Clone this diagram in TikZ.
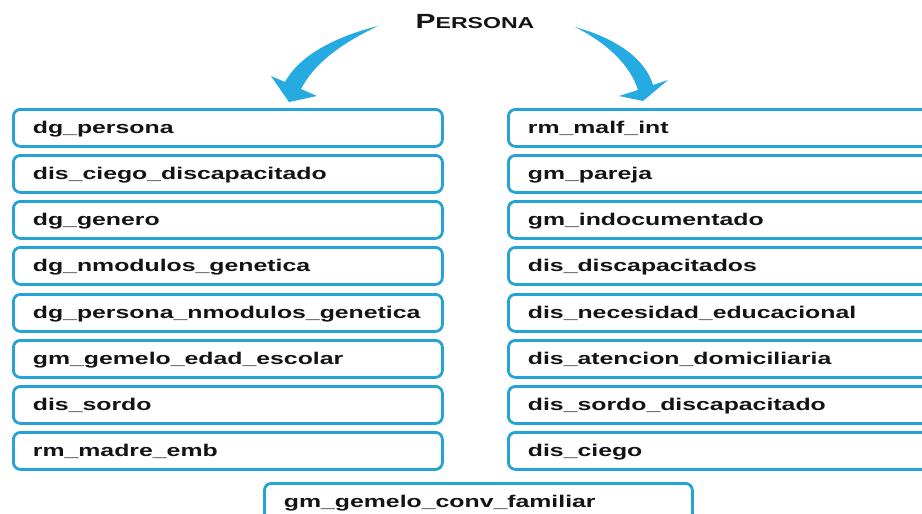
\documentclass[tikz,border=0pt]{standalone}
\usepackage{fontspec}
\newfontfamily\boxfont[FakeStretch=1.46]{Liberation Sans}
\definecolor{boxblue}{RGB}{38,163,214}
\definecolor{arrowblue}{RGB}{38,170,226}
\definecolor{txt}{RGB}{20,20,20}
\begin{document}
\begin{tikzpicture}[x=1pt,y=-1pt,
  item/.style={draw=boxblue, line width=2.8pt, rounded corners=7pt, fill=white,
    anchor=north west, minimum height=37pt, inner xsep=19.5pt, inner ysep=0pt,
    text width=#1, align=left, text height=13pt, text depth=2.5pt,
    font=\boxfont\bfseries\fontsize{17}{20}\selectfont, text=txt},
  item/.default=390pt,
  bigarrow/.style={fill=arrowblue}]
\path[use as bounding box] (0,0) rectangle (922,514);
\fill[white] (0,0) rectangle (922,514);
\clip (0,0) rectangle (922,514);

\node[text=txt, font=\boxfont\bfseries] (title) at (475,22)
  {{\fontsize{20.5}{20}\selectfont P}{\fontsize{15.8}{15}\selectfont ERSONA}};

% left column
\node[item] (l1) at (12,108) {dg\_persona};
\node[item] (l2) at (12,154) {dis\_ciego\_discapacitado};
\node[item] (l3) at (12,200) {dg\_genero};
\node[item] (l4) at (12,246) {dg\_nmodulos\_genetica};
\node[item] (l5) at (12,293) {dg\_persona\_nmodulos\_genetica};
\node[item] (l6) at (12,339) {gm\_gemelo\_edad\_escolar};
\node[item] (l7) at (12,385) {dis\_sordo};
\node[item] (l8) at (12,431) {rm\_madre\_emb};

% right column
\node[item=411pt] (r1) at (507,108) {rm\_malf\_int};
\node[item=411pt] (r2) at (507,154) {gm\_pareja};
\node[item=411pt] (r3) at (507,200) {gm\_indocumentado};
\node[item=411pt] (r4) at (507,246) {dis\_discapacitados};
\node[item=411pt] (r5) at (507,293) {dis\_necesidad\_educacional};
\node[item=411pt] (r6) at (507,339) {dis\_atencion\_domiciliaria};
\node[item=411pt] (r7) at (507,385) {dis\_sordo\_discapacitado};
\node[item=411pt] (r8) at (507,431) {dis\_ciego};

% bottom
\node[item=389pt] (bot) at (263,482) {gm\_gemelo\_conv\_familiar};

% curved arrows
\fill[bigarrow] (378,26) .. controls (330,38) and (298,58) .. (285,82)
  -- (271,76) -- (289,102) -- (317,96) -- (301,89)
  .. controls (314,64) and (340,44) .. (378,26) -- cycle;
\fill[bigarrow] (575,27) .. controls (615,38) and (645,58) .. (653,85)
  -- (668,80) -- (643,101) -- (619,96) -- (638,90)
  .. controls (630,64) and (605,42) .. (575,27) -- cycle;
\end{tikzpicture}
\end{document}
